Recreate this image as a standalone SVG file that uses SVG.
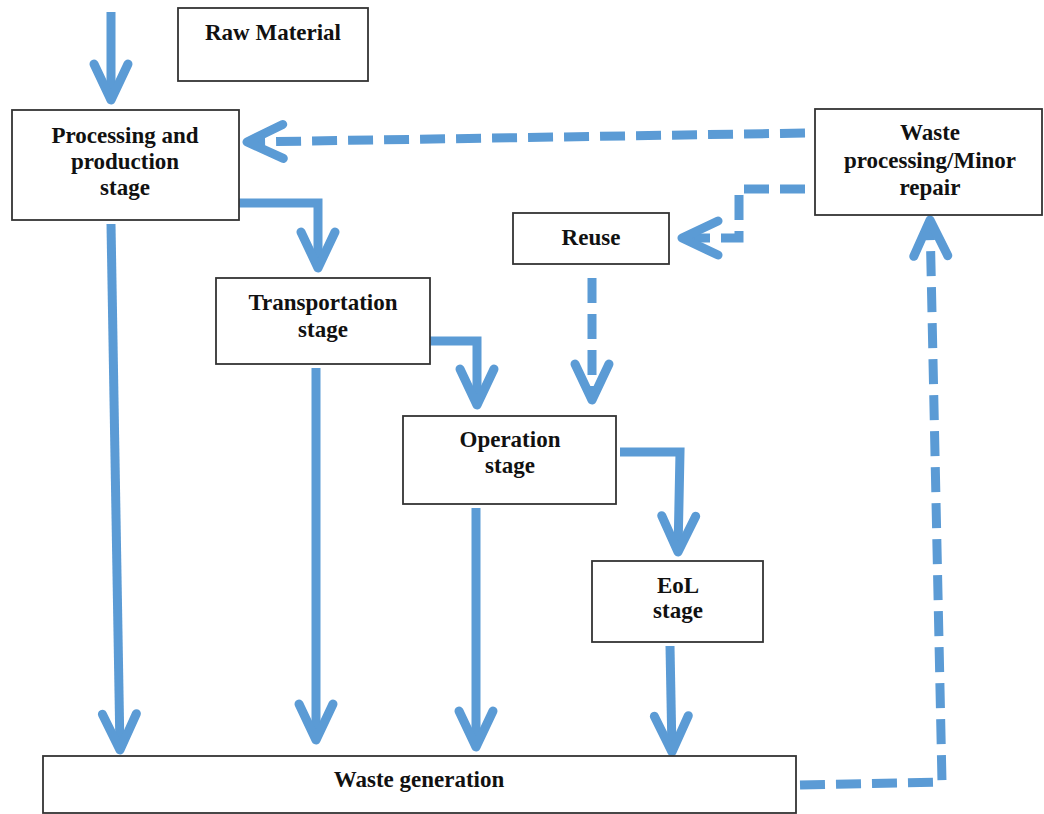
<svg xmlns="http://www.w3.org/2000/svg" width="1044" height="814" viewBox="0 0 1044 814">
<style>
.box{fill:#fff;stroke:#333;stroke-width:1.8}
.t{font-family:"Liberation Serif","Times New Roman",serif;font-weight:bold;font-size:23px;fill:#111;text-anchor:middle}
.c{fill:none;stroke:#5b9bd5;stroke-width:9}
.d{stroke-dasharray:25 11}
</style>
<defs>
<marker id="ah" markerUnits="userSpaceOnUse" viewBox="-50 -30 60 60" refX="0" refY="0" markerWidth="60" markerHeight="60" orient="auto" overflow="visible">
<path d="M-36,-17 L0,0 L-36,17" fill="none" stroke="#5b9bd5" stroke-width="9" stroke-linecap="round" stroke-linejoin="round"/>
</marker>
</defs>
<rect width="1044" height="814" fill="#fff"/>
<g id="connectors">
<path class="c" d="M111,12 L111,100" marker-end="url(#ah)"/>
<path class="c" d="M239,203 L318,203 L318,268" marker-end="url(#ah)"/>
<path class="c" d="M111,224 L120,750" marker-end="url(#ah)"/>
<path class="c" d="M316,368 L316,740" marker-end="url(#ah)"/>
<path class="c" d="M430,341 L477,341 L477,405" marker-end="url(#ah)"/>
<path class="c" d="M476,508 L476,747" marker-end="url(#ah)"/>
<path class="c" d="M620,452 L680,452 L678,552" marker-end="url(#ah)"/>
<path class="c" d="M670,646 L672,752" marker-end="url(#ah)"/>
<path class="c d" d="M805,133 L247,142" marker-end="url(#ah)"/>
<path class="c d" d="M805,189 L739,189 L739,238 L682,238" marker-end="url(#ah)"/>
<path class="c d" d="M592,278 L592,400" marker-end="url(#ah)"/>
<path class="c d" d="M800,785 L942,782 L930,220" marker-end="url(#ah)"/>
</g>
<g id="raw-material"><rect class="box" x="178" y="8" width="190" height="73"/><text class="t" x="273" y="40">Raw Material</text></g>
<g id="processing"><rect class="box" x="12" y="110" width="227" height="110"/><text class="t" x="125" y="143">Processing and</text><text class="t" x="125" y="169">production</text><text class="t" x="125" y="195">stage</text></g>
<g id="waste-processing"><rect class="box" x="815" y="109" width="227" height="106"/><text class="t" x="930" y="140">Waste</text><text class="t" x="930" y="168">processing/Minor</text><text class="t" x="930" y="195">repair</text></g>
<g id="reuse"><rect class="box" x="513" y="213" width="156" height="51"/><text class="t" x="591" y="245">Reuse</text></g>
<g id="transportation"><rect class="box" x="216" y="278" width="214" height="86"/><text class="t" x="323" y="310">Transportation</text><text class="t" x="323" y="337">stage</text></g>
<g id="operation"><rect class="box" x="403" y="416" width="213" height="88"/><text class="t" x="510" y="447">Operation</text><text class="t" x="510" y="473">stage</text></g>
<g id="eol"><rect class="box" x="592" y="561" width="171" height="81"/><text class="t" x="678" y="593">EoL</text><text class="t" x="678" y="618">stage</text></g>
<g id="waste-generation"><rect class="box" x="43" y="756" width="753" height="57"/><text class="t" x="419" y="787">Waste generation</text></g>
</svg>
